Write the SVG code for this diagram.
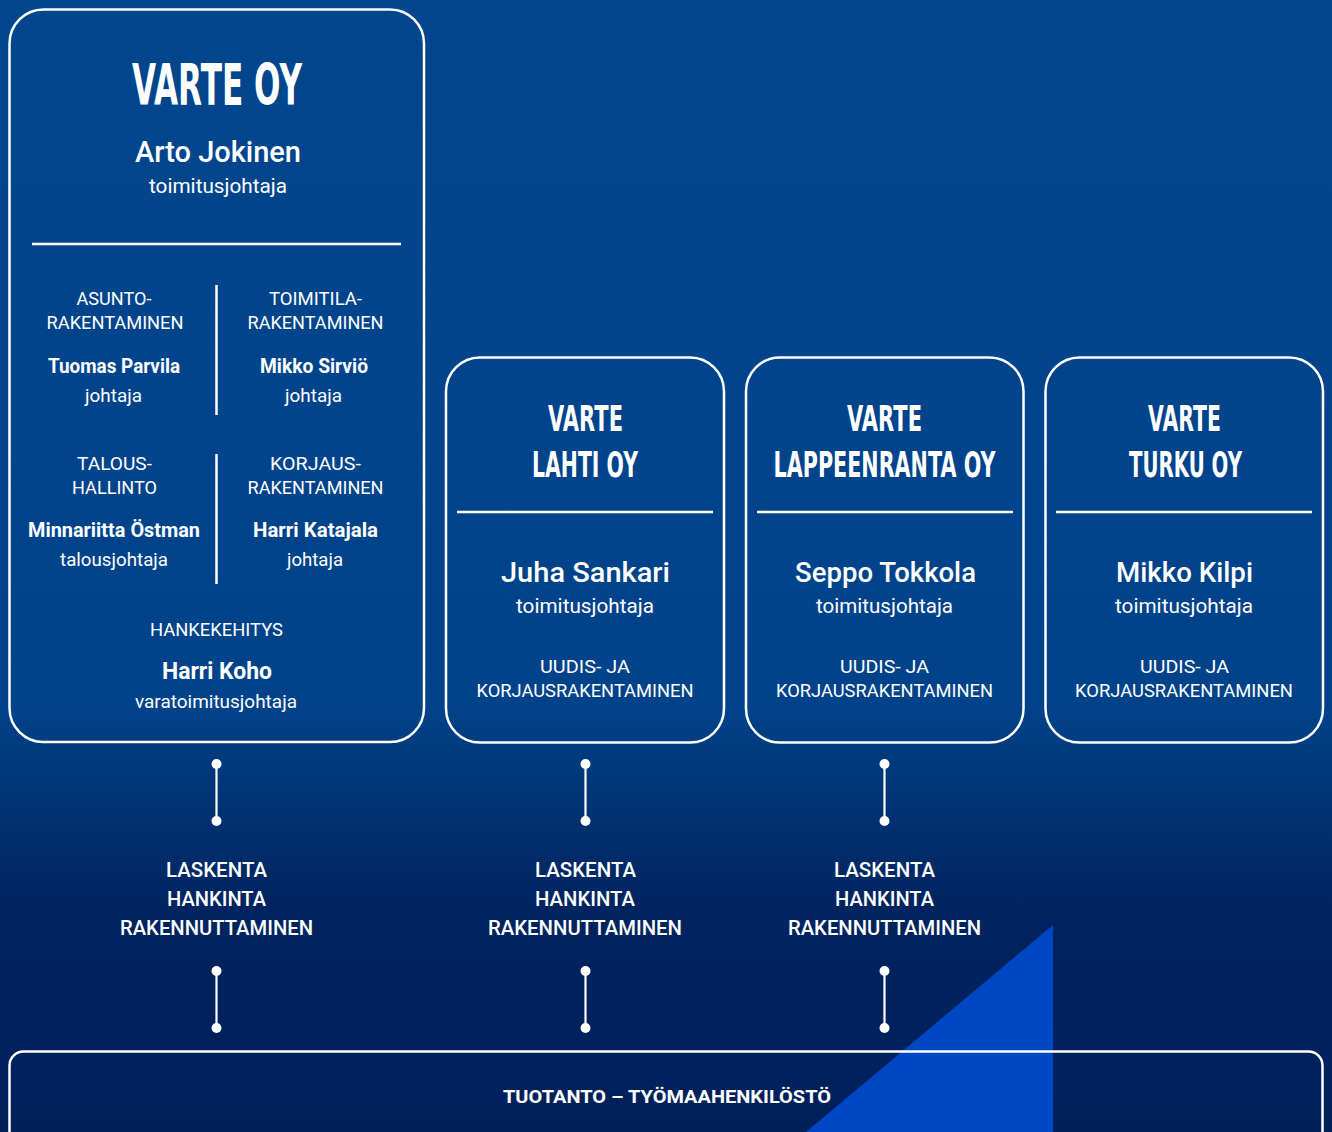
<svg xmlns="http://www.w3.org/2000/svg" width="1332" height="1132" viewBox="0 0 1332 1132">
  <defs>
    <linearGradient id="bg" gradientUnits="userSpaceOnUse" x1="0" y1="0" x2="0" y2="1132">
      <stop offset="0" stop-color="#02468e"/>
      <stop offset="0.62" stop-color="#01438a"/>
      <stop offset="0.8" stop-color="#00245f"/>
      <stop offset="1" stop-color="#00205a"/>
    </linearGradient>
    <style>
      .box{fill:none;stroke:#fff;stroke-width:2.5}
      .div{stroke:#fff;stroke-width:2.5}
      text{fill:#fff;text-anchor:middle}
      .ttl{font-family:"DejaVu Sans",sans-serif;font-weight:bold}
      .nm{font-family:Roboto,"Noto Sans",sans-serif;font-weight:500}
      .nb{font-family:Roboto,"Noto Sans",sans-serif;font-weight:700}
      .rl{font-family:Roboto,"Noto Sans",sans-serif;font-weight:400}
      .cap{font-family:Roboto,"Noto Sans",sans-serif;font-weight:400;font-size:19px}
      .lab{font-family:Roboto,"Noto Sans",sans-serif;font-weight:500;font-size:20px}
      .conn line{stroke:#fff;stroke-width:2.2}
      .conn circle{fill:#fff}
    </style>
  </defs>
  <rect x="0" y="0" width="1332" height="1132" fill="url(#bg)"/>
  <polygon points="1053,925 1053,1132 806,1132" fill="#0047c5"/>

  <g id="varte-oy">
    <rect class="box" x="9.5" y="9.5" width="414.5" height="732.5" rx="34"/>
    <g transform="translate(217 105) scale(1 1.85)"><text class="ttl" x="0" y="0" font-size="30.3" textLength="170" lengthAdjust="spacingAndGlyphs">VARTE OY</text></g>
    <text class="nm" x="218" y="162" font-size="29" textLength="166" lengthAdjust="spacingAndGlyphs">Arto Jokinen</text>
    <text class="rl" x="218" y="193" font-size="20" textLength="138" lengthAdjust="spacingAndGlyphs">toimitusjohtaja</text>
    <line class="div" x1="32" y1="244" x2="401" y2="244"/>
    <line class="div" x1="216.5" y1="285" x2="216.5" y2="415"/>
    <line class="div" x1="216.5" y1="454" x2="216.5" y2="584"/>

    <text class="cap" x="114" y="305" textLength="75" lengthAdjust="spacingAndGlyphs">ASUNTO-</text>
    <text class="cap" x="115" y="329" textLength="137" lengthAdjust="spacingAndGlyphs">RAKENTAMINEN</text>
    <text class="nb" x="114" y="373" font-size="20" textLength="132" lengthAdjust="spacingAndGlyphs">Tuomas Parvila</text>
    <text class="rl" x="113.5" y="402" font-size="19" textLength="57" lengthAdjust="spacingAndGlyphs">johtaja</text>

    <text class="cap" x="315.5" y="305" textLength="93" lengthAdjust="spacingAndGlyphs">TOIMITILA-</text>
    <text class="cap" x="315.5" y="329" textLength="136" lengthAdjust="spacingAndGlyphs">RAKENTAMINEN</text>
    <text class="nb" x="314" y="373" font-size="20" textLength="108" lengthAdjust="spacingAndGlyphs">Mikko Sirviö</text>
    <text class="rl" x="313.5" y="402" font-size="19" textLength="57" lengthAdjust="spacingAndGlyphs">johtaja</text>

    <text class="cap" x="114.5" y="470" textLength="75" lengthAdjust="spacingAndGlyphs">TALOUS-</text>
    <text class="cap" x="114.5" y="494" textLength="85" lengthAdjust="spacingAndGlyphs">HALLINTO</text>
    <text class="nb" x="114" y="537" font-size="20" textLength="172" lengthAdjust="spacingAndGlyphs">Minnariitta Östman</text>
    <text class="rl" x="114" y="566" font-size="19" textLength="108" lengthAdjust="spacingAndGlyphs">talousjohtaja</text>

    <text class="cap" x="315.5" y="470" textLength="91" lengthAdjust="spacingAndGlyphs">KORJAUS-</text>
    <text class="cap" x="315.5" y="494" textLength="136" lengthAdjust="spacingAndGlyphs">RAKENTAMINEN</text>
    <text class="nb" x="315.5" y="537" font-size="20" textLength="125" lengthAdjust="spacingAndGlyphs">Harri Katajala</text>
    <text class="rl" x="315" y="566" font-size="19" textLength="56" lengthAdjust="spacingAndGlyphs">johtaja</text>

    <text class="cap" x="216.5" y="636" textLength="133" lengthAdjust="spacingAndGlyphs">HANKEKEHITYS</text>
    <text class="nb" x="217" y="679" font-size="24" textLength="110" lengthAdjust="spacingAndGlyphs">Harri Koho</text>
    <text class="rl" x="216" y="708" font-size="19" textLength="162" lengthAdjust="spacingAndGlyphs">varatoimitusjohtaja</text>
  </g>

  <g id="varte-lahti">
    <rect class="box" x="446" y="357.5" width="278" height="385" rx="34"/>
    <g transform="translate(585.5 431) scale(1 1.75)"><text class="ttl" x="0" y="0" font-size="20.4" textLength="75" lengthAdjust="spacingAndGlyphs">VARTE</text></g>
    <g transform="translate(585 477) scale(1 1.76)"><text class="ttl" x="0" y="0" font-size="20.3" textLength="106" lengthAdjust="spacingAndGlyphs">LAHTI OY</text></g>
    <line class="div" x1="457" y1="512" x2="713" y2="512"/>
    <text class="nm" x="585.5" y="582" font-size="28" textLength="169" lengthAdjust="spacingAndGlyphs">Juha Sankari</text>
    <text class="rl" x="585" y="613" font-size="20" textLength="138" lengthAdjust="spacingAndGlyphs">toimitusjohtaja</text>
    <text class="cap" x="585" y="673" textLength="90" lengthAdjust="spacingAndGlyphs">UUDIS- JA</text>
    <text class="cap" x="585" y="697" textLength="217" lengthAdjust="spacingAndGlyphs">KORJAUSRAKENTAMINEN</text>
  </g>

  <g id="varte-lappeenranta">
    <rect class="box" x="746" y="357.5" width="277.5" height="385" rx="34"/>
    <g transform="translate(884.5 431) scale(1 1.75)"><text class="ttl" x="0" y="0" font-size="20.4" textLength="75" lengthAdjust="spacingAndGlyphs">VARTE</text></g>
    <g transform="translate(884.5 477) scale(1 1.74)"><text class="ttl" x="0" y="0" font-size="20.5" textLength="222" lengthAdjust="spacingAndGlyphs">LAPPEENRANTA OY</text></g>
    <line class="div" x1="757" y1="512" x2="1013" y2="512"/>
    <text class="nm" x="885.5" y="582" font-size="28" textLength="181" lengthAdjust="spacingAndGlyphs">Seppo Tokkola</text>
    <text class="rl" x="884.5" y="613" font-size="20" textLength="137" lengthAdjust="spacingAndGlyphs">toimitusjohtaja</text>
    <text class="cap" x="884.5" y="673" textLength="89" lengthAdjust="spacingAndGlyphs">UUDIS- JA</text>
    <text class="cap" x="884.5" y="697" textLength="217" lengthAdjust="spacingAndGlyphs">KORJAUSRAKENTAMINEN</text>
  </g>

  <g id="varte-turku">
    <rect class="box" x="1045.5" y="357.5" width="277.5" height="385" rx="34"/>
    <g transform="translate(1184.5 431) scale(1 1.78)"><text class="ttl" x="0" y="0" font-size="20" textLength="73" lengthAdjust="spacingAndGlyphs">VARTE</text></g>
    <g transform="translate(1185.5 477) scale(1 1.82)"><text class="ttl" x="0" y="0" font-size="19.6" textLength="113" lengthAdjust="spacingAndGlyphs">TURKU OY</text></g>
    <line class="div" x1="1056" y1="512" x2="1312" y2="512"/>
    <text class="nm" x="1184.5" y="582" font-size="28" textLength="137" lengthAdjust="spacingAndGlyphs">Mikko Kilpi</text>
    <text class="rl" x="1184" y="613" font-size="20" textLength="138" lengthAdjust="spacingAndGlyphs">toimitusjohtaja</text>
    <text class="cap" x="1184.5" y="673" textLength="89" lengthAdjust="spacingAndGlyphs">UUDIS- JA</text>
    <text class="cap" x="1184" y="697" textLength="218" lengthAdjust="spacingAndGlyphs">KORJAUSRAKENTAMINEN</text>
  </g>

  <g id="functions-1">
    <text class="lab" x="216.5" y="877" textLength="101" lengthAdjust="spacingAndGlyphs">LASKENTA</text>
    <text class="lab" x="216.5" y="906" textLength="99" lengthAdjust="spacingAndGlyphs">HANKINTA</text>
    <text class="lab" x="216.5" y="935" textLength="193" lengthAdjust="spacingAndGlyphs">RAKENNUTTAMINEN</text>
  </g>
  <g id="functions-2">
    <text class="lab" x="585.5" y="877" textLength="101" lengthAdjust="spacingAndGlyphs">LASKENTA</text>
    <text class="lab" x="585" y="906" textLength="100" lengthAdjust="spacingAndGlyphs">HANKINTA</text>
    <text class="lab" x="585" y="935" textLength="194" lengthAdjust="spacingAndGlyphs">RAKENNUTTAMINEN</text>
  </g>
  <g id="functions-3">
    <text class="lab" x="884.5" y="877" textLength="101" lengthAdjust="spacingAndGlyphs">LASKENTA</text>
    <text class="lab" x="884.5" y="906" textLength="99" lengthAdjust="spacingAndGlyphs">HANKINTA</text>
    <text class="lab" x="884.5" y="935" textLength="193" lengthAdjust="spacingAndGlyphs">RAKENNUTTAMINEN</text>
  </g>

  <g id="tuotanto">
    <rect class="box" x="9.5" y="1051.5" width="1313" height="110" rx="14"/>
    <text class="nb" x="667" y="1103" font-size="19" textLength="328" lengthAdjust="spacingAndGlyphs">TUOTANTO – TYÖMAAHENKILÖSTÖ</text>
  </g>

  <g id="connectors" class="conn">
    <line x1="216.5" y1="764" x2="216.5" y2="821"/><circle cx="216.5" cy="764" r="5"/><circle cx="216.5" cy="821" r="5"/>
    <line x1="585.5" y1="764" x2="585.5" y2="821"/><circle cx="585.5" cy="764" r="5"/><circle cx="585.5" cy="821" r="5"/>
    <line x1="884.5" y1="764" x2="884.5" y2="821"/><circle cx="884.5" cy="764" r="5"/><circle cx="884.5" cy="821" r="5"/>
    <line x1="216.5" y1="971" x2="216.5" y2="1028"/><circle cx="216.5" cy="971" r="5"/><circle cx="216.5" cy="1028" r="5"/>
    <line x1="585.5" y1="971" x2="585.5" y2="1028"/><circle cx="585.5" cy="971" r="5"/><circle cx="585.5" cy="1028" r="5"/>
    <line x1="884.5" y1="971" x2="884.5" y2="1028"/><circle cx="884.5" cy="971" r="5"/><circle cx="884.5" cy="1028" r="5"/>
  </g>
</svg>
